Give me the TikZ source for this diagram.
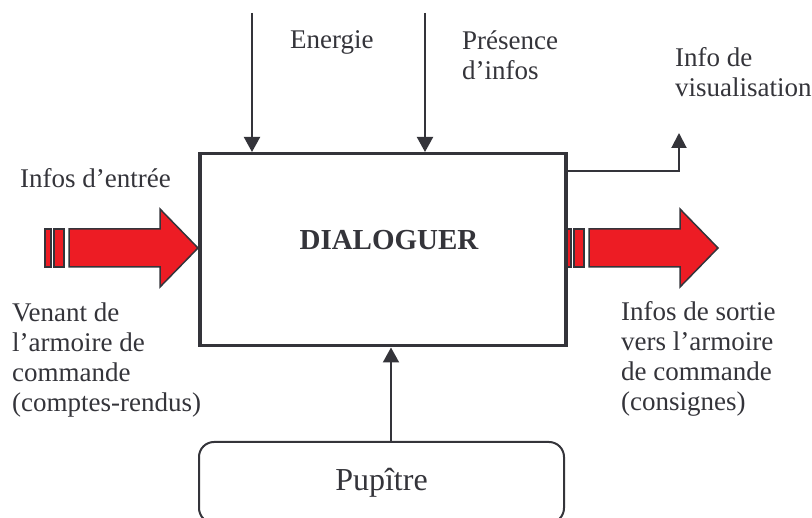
\documentclass[tikz,border=0pt]{standalone}
\usepackage{fontspec}
\setmainfont{Liberation Serif}
\usetikzlibrary{arrows.meta}
\definecolor{ink}{RGB}{52,52,58}
\definecolor{flow}{RGB}{237,28,36}
\begin{document}
\begin{tikzpicture}[x=1pt,y=-1pt,
  lbl/.style={anchor=base west, inner sep=0pt, align=left, text=ink,
    font=\fontsize{27}{30}\selectfont},
  sig/.style={draw=ink, line width=2pt, -{Triangle[length=15pt,width=16pt]}},
  bigarrow/.style={fill=flow, draw=ink, line width=1.5pt, line join=miter},
  flowarrow/.pic={
    \path[bigarrow] (0,-19) rectangle (6,19);
    \path[bigarrow] (9,-19) rectangle (19,19);
    \path[bigarrow] (24,-19) -- (115,-19) -- (115,-39) -- (153,0)
      -- (115,39) -- (115,19) -- (24,19) -- cycle;
  }]
\useasboundingbox (0,0) rectangle (812,518);
\clip (0,0) rectangle (812,518);

% anchor points for the free ends
\coordinate (etop) at (252,13);
\coordinate (ptop) at (425,13);
\coordinate (vtip) at (679,133);
\coordinate (vrow) at (0,171);
\coordinate (dcol) at (391,0);

% wide input / output flows (drawn under the box outline)
\coordinate (inl) at (45,248);
\coordinate (outl) at (565,248);
\pic at (inl) {flowarrow};
\pic at (outl) {flowarrow};

% the function box
\node[draw=ink, line width=3.5pt, minimum width=366pt, minimum height=192pt,
  inner sep=0pt, anchor=north west] (box) at (198,152) {};
\node[anchor=base, inner sep=0pt, text=ink,
  font=\fontsize{29}{34}\selectfont\bfseries] (title) at (389,250) {DIALOGUER};

% operator desk
\node[draw=ink, line width=2pt, rounded corners=15pt, minimum width=365pt,
  minimum height=81pt, inner sep=0pt, anchor=north west, text=ink,
  font=\fontsize{32}{36}\selectfont] (desk) at (198,441) {Pupître};

% control inputs
\draw[sig] (etop) -- (etop |- box.north);
\draw[sig] (ptop) -- (ptop |- box.north);
\draw[sig] (dcol |- desk.north) -- (dcol |- box.south);

% display output
\draw[draw=ink, line width=2pt, -{Triangle[length=15pt,width=15pt]}]
  (box.east |- vrow) -| (vtip);

% labels (multi-line nodes are placed by the baseline of their last line)
\node[lbl] (lenergie) at (290,49) {Energie};
\node[lbl] (lpresence) at (462,80) {Présence\\d’infos};
\node[lbl] (lvisu) at (675,97) {Info de\\visualisation};
\node[lbl] (lin) at (20,188) {Infos d’entrée};
\node[lbl] (lfrom) at (12,412) {Venant de\\l’armoire de\\commande\\(comptes-rendus)};
\node[lbl] (lout) at (621,411) {Infos de sortie\\vers l’armoire\\de commande\\(consignes)};
\end{tikzpicture}
\end{document}
